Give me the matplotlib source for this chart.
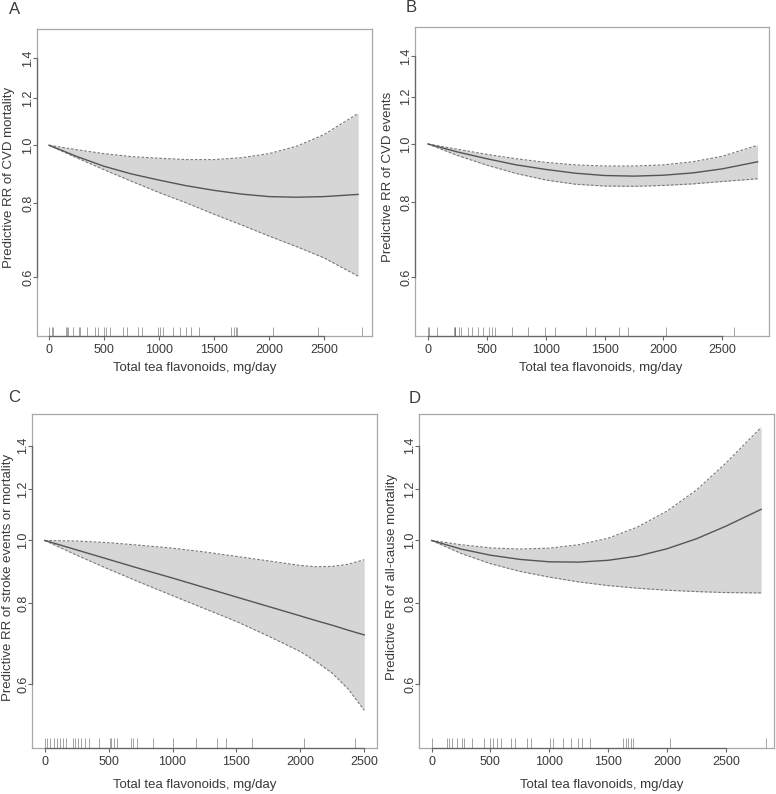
import numpy as np
import matplotlib
matplotlib.use("Agg")
import matplotlib.pyplot as plt
import matplotlib.transforms as mtrans
from matplotlib.ticker import FixedLocator, FixedFormatter, NullLocator

INK = "#3a3a3a"; BOX = "#a8a8a8"; AXL = "#666666"; FILL = "#d6d6d6"; EDGE = "#7a7a7a"; LINE = "#555555"
plt.rcParams.update({"font.family": ["Liberation Sans", "DejaVu Sans"], "text.color": INK,
                     "axes.linewidth": 0.9, "axes.edgecolor": BOX})

W, H = 776, 794

# ---- data (RR on log scale) ----
x_A = [0, 250, 500, 750, 1000, 1250, 1500, 1750, 2000, 2250, 2500, 2810]
rr_A = [1.0, 0.958, 0.922, 0.895, 0.874, 0.855, 0.840, 0.828, 0.820, 0.818, 0.820, 0.827]
hi_A = [1.0, 0.983, 0.968, 0.957, 0.951, 0.946, 0.946, 0.953, 0.968, 0.996, 1.042, 1.131]
lo_A = [1.0, 0.953, 0.910, 0.870, 0.833, 0.800, 0.766, 0.735, 0.704, 0.676, 0.647, 0.603]
rug_A = [0, 30, 39, 152, 164, 176, 221, 270, 282, 342, 418, 442, 503, 515, 555, 676, 706, 806, 842,
         994, 1009, 1039, 1130, 1191, 1245, 1288, 1361, 1655, 1685, 1697, 1706, 2033, 2448, 2848]

x_B = [0, 250, 500, 750, 1000, 1250, 1500, 1750, 2000, 2250, 2500, 2800]
rr_B = [1.0, 0.970, 0.945, 0.923, 0.907, 0.894, 0.886, 0.884, 0.887, 0.895, 0.909, 0.934]
hi_B = [1.0, 0.980, 0.961, 0.945, 0.932, 0.923, 0.919, 0.919, 0.923, 0.934, 0.954, 0.995]
lo_B = [1.0, 0.957, 0.922, 0.893, 0.871, 0.857, 0.851, 0.850, 0.853, 0.858, 0.866, 0.875]
rug_B = [0, 6, 76, 221, 226, 232, 263, 283, 337, 376, 424, 464, 520, 543, 566, 718, 846, 996,
         1083, 1346, 1420, 1626, 1702, 2019, 2599]

x_C = [0, 250, 500, 750, 1000, 1250, 1500, 1750, 2000, 2125, 2250, 2375, 2500]
rr_C = [1.0, 0.967, 0.935, 0.904, 0.875, 0.846, 0.818, 0.791, 0.765, 0.752, 0.740, 0.727, 0.715]
hi_C = [1.0, 0.998, 0.992, 0.983, 0.973, 0.960, 0.945, 0.930, 0.915, 0.911, 0.912, 0.919, 0.934]
lo_C = [1.0, 0.949, 0.903, 0.861, 0.822, 0.785, 0.750, 0.712, 0.674, 0.650, 0.624, 0.590, 0.547]
rug_C = [0, 18, 44, 71, 97, 118, 139, 165, 222, 240, 259, 287, 313, 345, 423, 509, 520, 541, 567,
         677, 693, 718, 849, 1006, 1186, 1351, 1418, 1625, 2025, 2429]

x_D = [0, 250, 500, 750, 1000, 1250, 1500, 1750, 2000, 2250, 2500, 2800]
rr_D = [1.0, 0.970, 0.949, 0.935, 0.927, 0.926, 0.932, 0.946, 0.971, 1.006, 1.052, 1.117]
hi_D = [1.0, 0.985, 0.974, 0.970, 0.973, 0.985, 1.008, 1.049, 1.110, 1.196, 1.316, 1.494]
lo_D = [1.0, 0.955, 0.921, 0.896, 0.878, 0.863, 0.852, 0.844, 0.838, 0.834, 0.831, 0.830]
rug_D = [0, 132, 149, 177, 220, 255, 276, 340, 444, 496, 522, 557, 591, 674, 709, 808, 844,
         1010, 1029, 1120, 1182, 1240, 1276, 1347, 1626, 1652, 1672, 1691, 1708, 2024, 2840]

yticks = [0.6, 0.8, 1.0, 1.2, 1.4]
ytick_lab = ["0.6", "0.8", "1.0", "1.2", "1.4"]
xticks = [0, 500, 1000, 1500, 2000, 2500]
YLIM = (0.4785, 1.567)
XLAB = "Total tea flavonoids, mg/day"

panels = [
    # letter, box px (l, t, r, b), xlim, data, ylabel, letter pos, xlabel pos, ylabel pos
    ("A", (37, 29, 372, 336), (-109, 2936), (x_A, rr_A, lo_A, hi_A, rug_A),
     "Predictive RR of CVD mortality", (15, 9), (195, 368), (9, 177)),
    ("B", (415, 27, 769, 336), (-110, 2897), (x_B, rr_B, lo_B, hi_B, rug_B),
     "Predictive RR of CVD events", (411, 8), (601, 368), (388, 177)),
    ("C", (32, 414, 377, 748), (-100, 2600), (x_C, rr_C, lo_C, hi_C, rug_C),
     "Predictive RR of stroke events or mortality", (14, 397), (195, 785), (8, 577)),
    ("D", (419, 414, 774, 748), (-107, 2909), (x_D, rr_D, lo_D, hi_D, rug_D),
     "Predictive RR of all-cause mortality", (415, 398), (602, 785), (392, 577)),
]

fig = plt.figure(figsize=(W / 100, H / 100), dpi=100)
fig.patch.set_facecolor("white")

for letter, (l, t, r, b), xl, (xs, rr, lo, hi, rug), ylab, lp, xlp, ylp in panels:
    ax = fig.add_axes([l / W, 1 - b / H, (r - l) / W, (b - t) / H])
    ax.set_yscale("log")
    ax.set_xlim(*xl); ax.set_ylim(*YLIM)
    ax.fill_between(xs, lo, hi, color=FILL, lw=0, zorder=1)
    ax.plot(xs, hi, color=EDGE, lw=0.8, ls=(0, (2.5, 1.5)), zorder=2)
    ax.plot(xs, lo, color=EDGE, lw=0.8, ls=(0, (2.5, 1.5)), zorder=2)
    ax.plot(xs, rr, color=LINE, lw=1.0, zorder=3)
    # rug along the bottom
    trx = mtrans.blended_transform_factory(ax.transData, ax.transAxes)
    ax.vlines(rug, 0, 0.03, transform=trx, color="#555555", lw=0.7, alpha=0.55, zorder=2)
    # R-style axis lines from first to last tick
    ax.plot([xticks[0], xticks[-1]], [0, 0], transform=trx, color=AXL, lw=0.9, clip_on=False, zorder=4)
    try_ = mtrans.blended_transform_factory(ax.transAxes, ax.transData)
    ax.plot([0, 0], [yticks[0], yticks[-1]], transform=try_, color=AXL, lw=0.9, clip_on=False, zorder=4)
    ax.xaxis.set_major_locator(FixedLocator(xticks))
    ax.xaxis.set_major_formatter(FixedFormatter([str(v) for v in xticks]))
    ax.yaxis.set_major_locator(FixedLocator(yticks))
    ax.yaxis.set_major_formatter(FixedFormatter(ytick_lab))
    ax.yaxis.set_minor_locator(NullLocator())
    ax.tick_params(direction="out", length=2.9, width=0.8, color=AXL, labelcolor=INK, labelsize=9)
    ax.tick_params(axis="x", pad=3.2)
    ax.tick_params(axis="y", labelrotation=90, pad=3.3)
    plt.setp(ax.get_yticklabels(), ha="center", va="center")
    fig.text(lp[0] / W, 1 - lp[1] / H, letter, fontsize=12, ha="center", va="center")
    fig.text(xlp[0] / W, 1 - xlp[1] / H, XLAB, fontsize=9.5, ha="center", va="center")
    fig.text(ylp[0] / W, 1 - ylp[1] / H, ylab, fontsize=9.5, rotation=90, ha="center", va="center")

fig.savefig("out.png", dpi=100)
